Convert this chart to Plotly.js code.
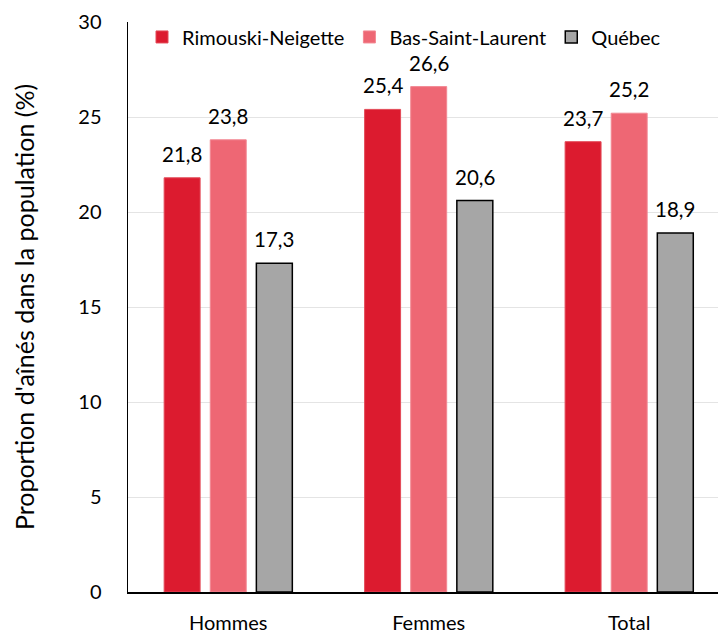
<!DOCTYPE html>
<html><head><meta charset="utf-8">
<script src="https://cdn.plot.ly/plotly-3.0.1.min.js"></script>
<style>html,body{margin:0;padding:0;background:#fff}</style>
</head><body>
<div id="chart" style="width:718px;height:632px"></div>
<script>
const categories = ["Hommes", "Femmes", "Total"];
const seriesNames = ["Rimouski-Neigette", "Bas-Saint-Laurent", "Québec"];
const rimouski = [21.8, 25.4, 23.7];
const basSaintLaurent = [23.8, 26.6, 25.2];
const quebec = [17.3, 20.6, 18.9];
const yTicks = [0, 5, 10, 15, 20, 25, 30];

const FONT = "Lato, 'Open Sans', sans-serif";
const W = 718, H = 632;
const M = {l: 128, r: 0, t: 22, b: 40};
const BARGAP = 0.31, BARGROUPGAP = 0.22;
const XRANGE = [-0.5, 2.443];

function bar(name, y, color, lineColor, lineWidth) {
  return {
    type: 'bar', name: name, x: categories, y: y,
    marker: {color: color, line: {color: lineColor, width: lineWidth}},
    hoverinfo: 'skip'
  };
}

const seriesValues = [rimouski, basSaintLaurent, quebec];
const data = [
  bar(seriesNames[0], rimouski, '#DC1B2F', '#E34A58', 1),
  bar(seriesNames[1], basSaintLaurent, '#EE6774', '#F28893', 1),
  bar(seriesNames[2], quebec, '#A6A6A6', '#000000', 1.5)
];

// value labels above bars (positioned via axis coordinates)
const pxPerCat = (W - M.l - M.r) / (XRANGE[1] - XRANGE[0]);
const slot = pxPerCat * (1 - BARGAP) / seriesValues.length;
const annotations = [];
seriesValues.forEach((vals, j) => {
  vals.forEach((v, i) => {
    annotations.push({
      x: categories[i], y: v, xref: 'x', yref: 'y',
      xshift: (j - (seriesValues.length - 1) / 2) * slot,
      yshift: 10, yanchor: 'bottom', xanchor: 'center', showarrow: false,
      text: v.toFixed(1).replace('.', ','),
      font: {family: FONT, size: 20.5, color: '#000'}
    });
  });
});

const layout = {
  width: W, height: H,
  margin: M,
  paper_bgcolor: '#fff', plot_bgcolor: '#fff',
  separators: ', ',
  font: {family: FONT, size: 20, color: '#000'},
  barmode: 'group', bargap: BARGAP, bargroupgap: BARGROUPGAP,
  showlegend: true,
  legend: {orientation: 'h', x: (142 - M.l) / (W - M.l - M.r), xref: 'paper', y: 1.008, yanchor: 'top', xanchor: 'left',
           font: {family: FONT, size: 20, color: '#000'}, itemwidth: 30, traceorder: 'normal',
           bgcolor: 'rgba(255,255,255,0)'},
  annotations: annotations,
  xaxis: {
    type: 'category', range: XRANGE, showline: true, linecolor: '#000', linewidth: 1.5,
    ticks: '', showgrid: false, zeroline: false, tickfont: {family: FONT, size: 20},
    ticklabelstandoff: 12, fixedrange: true
  },
  yaxis: {
    range: [0, 30], tickvals: yTicks, showline: true, linecolor: '#000', linewidth: 1.5,
    ticks: '', showgrid: true, gridcolor: '#e4e4e4', gridwidth: 1, zeroline: false,
    tickfont: {family: FONT, size: 20}, ticklabelstandoff: 21,
    title: {text: "Proportion d'aînés dans la population (%)", font: {family: FONT, size: 25}, standoff: 36}
  }
};

Plotly.newPlot('chart', data, layout, {displayModeBar: false, staticPlot: true});
</script>
</body></html>
